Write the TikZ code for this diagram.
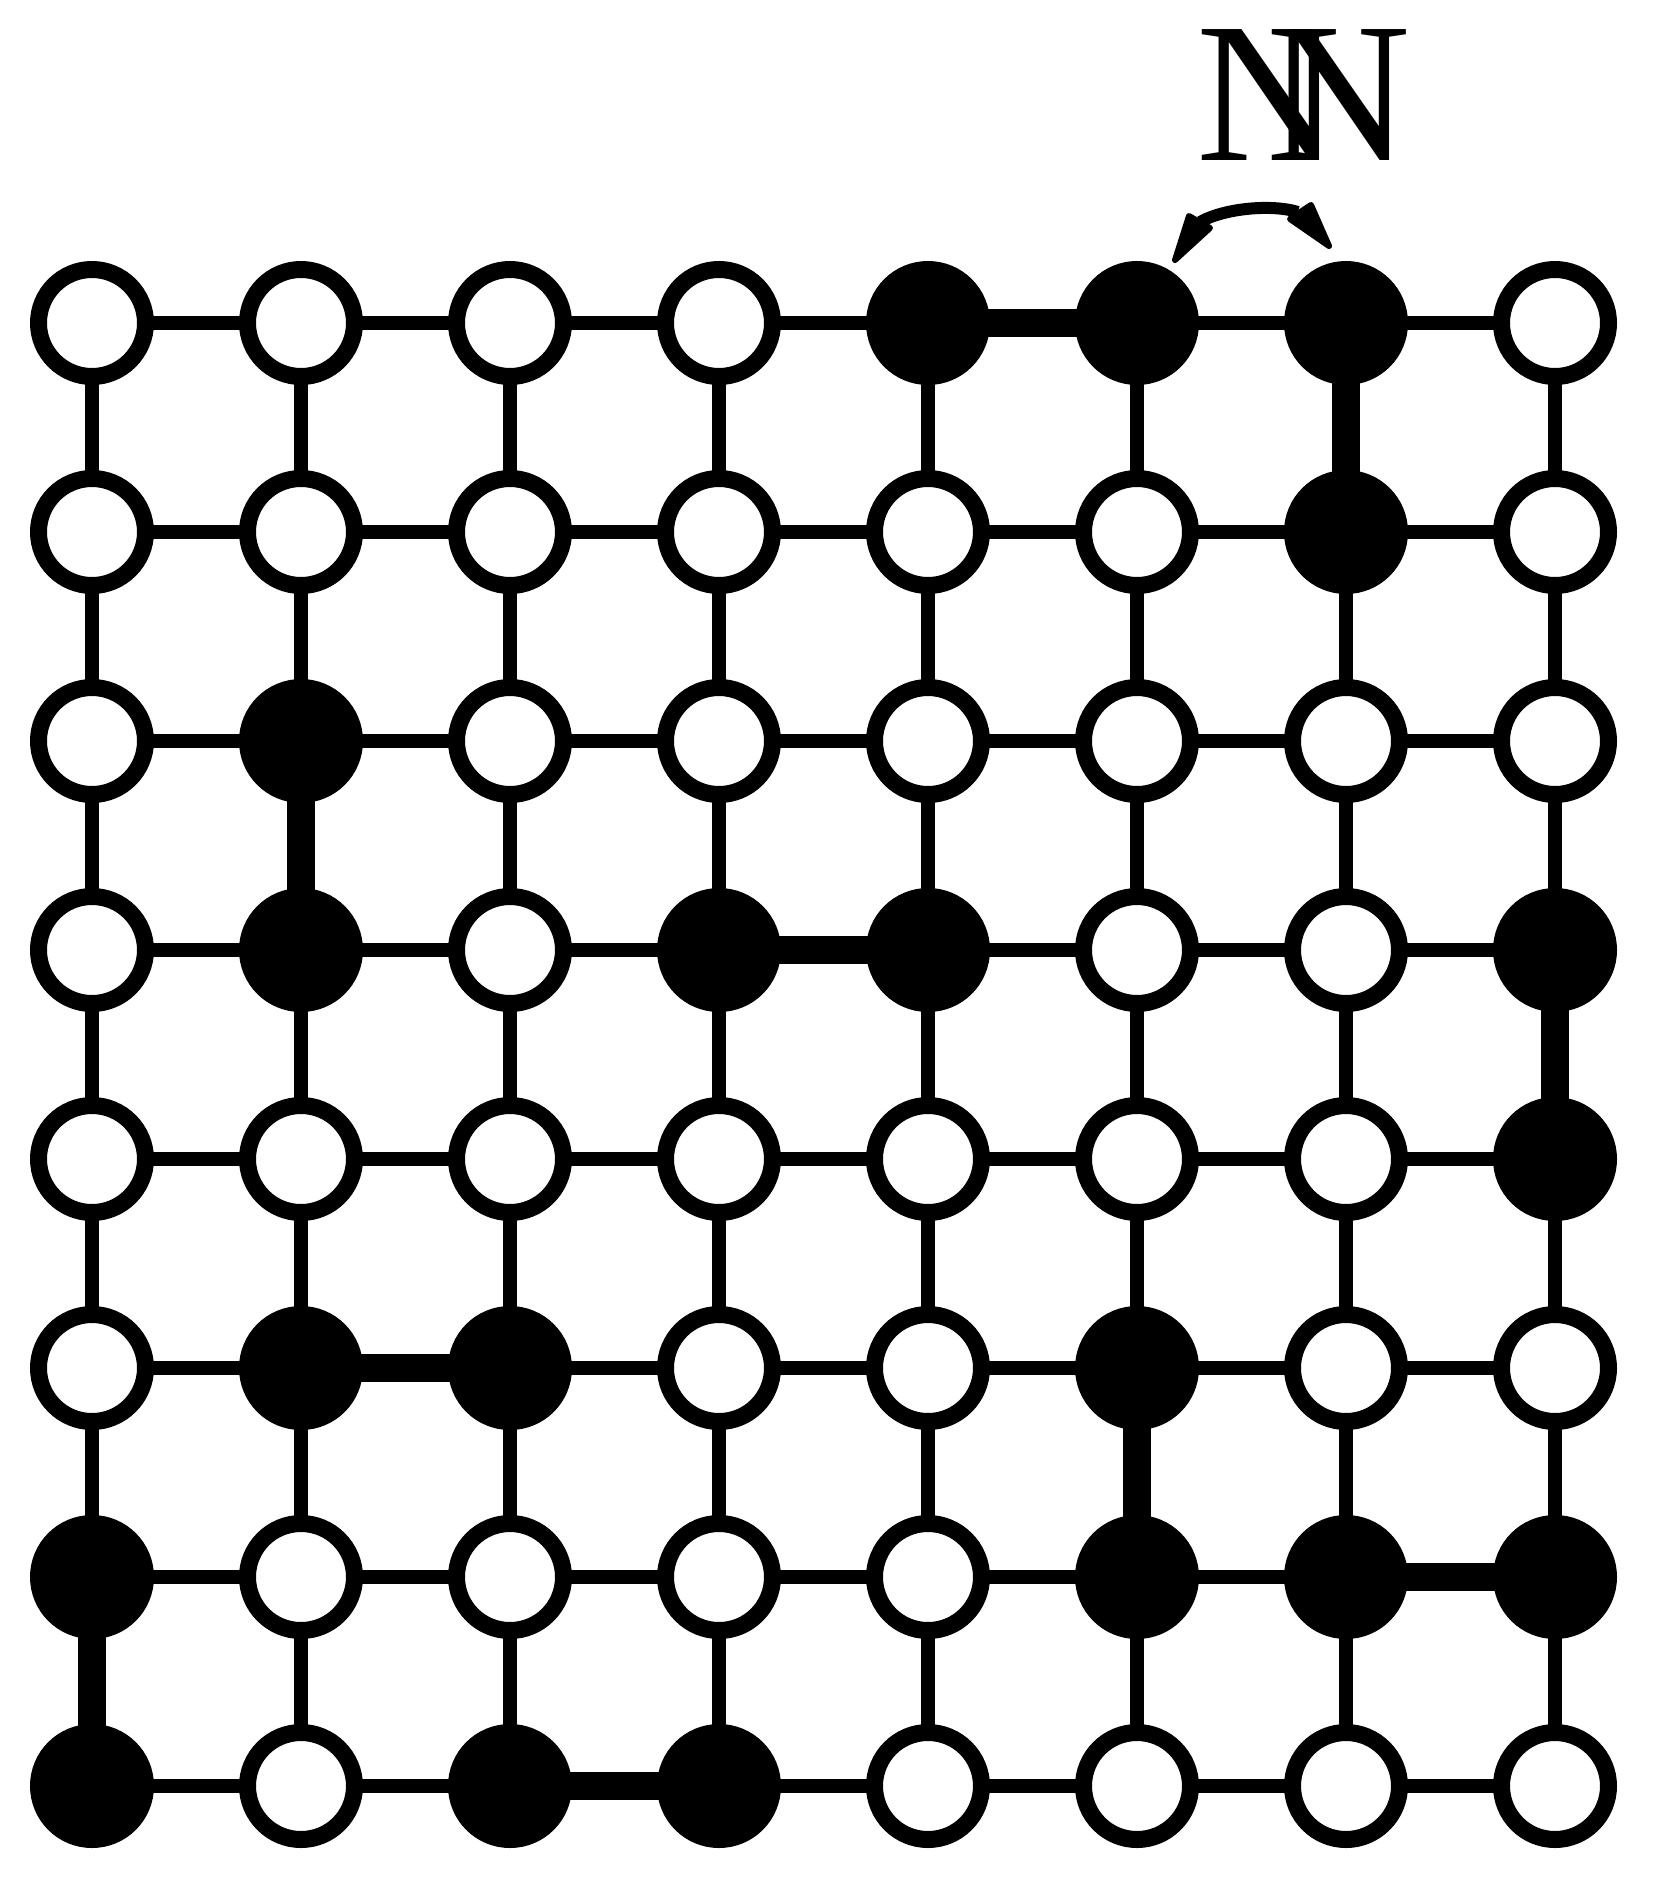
\documentclass[tikz,border=0pt]{standalone}
\usepackage{fontspec}
\setmainfont{Liberation Serif}
\begin{document}
\begin{tikzpicture}[x=1pt,y=-1pt,
  vtx/.style={circle,draw=black,line width=17pt,minimum size=107pt,inner sep=0pt,outer sep=0pt,fill=white},
  full/.style={vtx,fill=black},
  edgethin/.style={line width=14pt,black},
  edgethick/.style={line width=28pt,black},
  arcst/.style={line width=12pt,black},
  headst/.style={fill=black,draw=black,line width=6pt,line join=round},
  lbl/.style={inner sep=0pt,font=\fontsize{200}{200}\selectfont}]
\useasboundingbox (0,0) rectangle (1662,1891);
% vertices
\foreach \row [count=\r from 0] in {{0,0,0,0,1,1,1,0},{0,0,0,0,0,0,1,0},{0,1,0,0,0,0,0,0},{0,1,0,1,1,0,0,1},{0,0,0,0,0,0,0,1},{0,1,1,0,0,1,0,0},{1,0,0,0,0,1,1,1},{1,0,1,1,0,0,0,0}}{
  \foreach \v [count=\c from 0] in \row {
    \ifnum\v=1 \def\st{full}\else\def\st{vtx}\fi
    \node[\st] (n\r\c) at ({92+209*\c},{323+209*\r}) {};
  }
}
% thin edges
\foreach \r in {0,...,7}{
  \foreach \c [evaluate=\c as \d using int(\c+1)] in {0,...,6}{
    \draw[edgethin] (n\r\c) -- (n\r\d);
    \draw[edgethin] (n\c\r) -- (n\d\r);
  }
}
% thick edges
\foreach \a/\b in {04/05,33/34,51/52,66/67,72/73,06/16,21/31,37/47,55/65,60/70}{
  \draw[edgethick] (n\a) -- (n\b);
}
% swap arrow
\coordinate (bl) at (1200,222);
\coordinate (br) at (1298,212);
\draw[arcst] (bl) .. controls (1225,208) and (1272,204) .. (br);
\coordinate (al) at (1175,260);
\coordinate (ar) at (1329,246);
\draw[headst] (al) -- (1189,216) -- (1210,228) -- cycle;
\draw[headst] (ar) -- (1311,205) -- (1290,219) -- cycle;
% label
\node[lbl,anchor=base west] (t1) at (1196,160) {N};
\node[lbl,anchor=base west] (t2) at (1266,160) {N};
\end{tikzpicture}
\end{document}
